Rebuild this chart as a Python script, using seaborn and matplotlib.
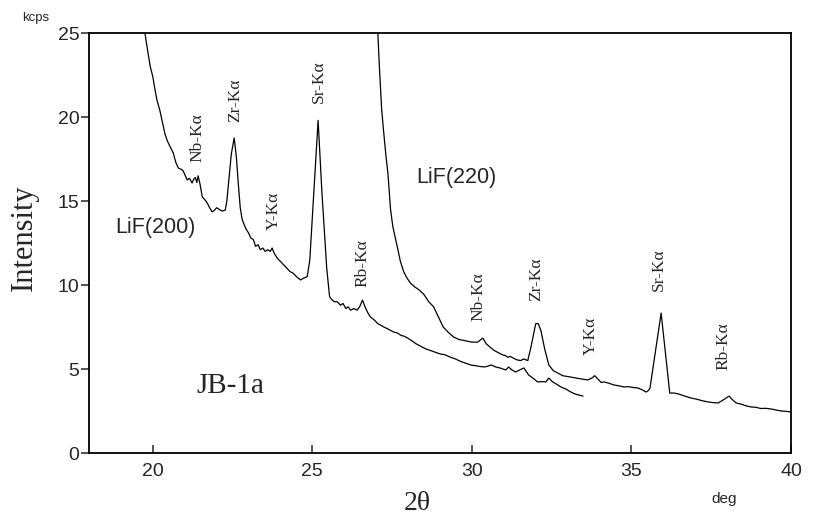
import numpy as np
import pandas as pd
import matplotlib
matplotlib.use("Agg")
import matplotlib.pyplot as plt
import seaborn as sns

# ---- data ----
lif200_x = [19.72, 19.85, 19.92, 20.00, 20.07, 20.13, 20.22, 20.30, 20.38, 20.45,
            20.55, 20.64, 20.72, 20.80, 20.88, 20.95, 21.02, 21.08, 21.15, 21.23,
            21.28, 21.33, 21.38, 21.42, 21.48, 21.55, 21.62, 21.70, 21.78, 21.86,
            21.93, 22.00, 22.08, 22.17, 22.27, 22.32, 22.38, 22.46, 22.55, 22.62,
            22.68, 22.74, 22.80, 22.86, 22.93, 23.00, 23.07, 23.15, 23.22, 23.30,
            23.37, 23.45, 23.52, 23.60, 23.68, 23.74, 23.80, 23.90, 24.00, 24.10,
            24.20, 24.30, 24.40, 24.50, 24.63, 24.72, 24.84, 24.92, 25.18, 25.30,
            25.45, 25.54, 25.62, 25.70, 25.78, 25.88, 25.96, 26.05, 26.12, 26.20,
            26.30, 26.40, 26.48, 26.57, 26.65, 26.75, 26.82, 26.95, 27.05, 27.15,
            27.24, 27.35, 27.45, 27.55, 27.67, 27.78, 27.88, 27.98, 28.10, 28.25,
            28.40, 28.55, 28.70, 28.85, 29.00, 29.15, 29.33, 29.48, 29.65, 29.80,
            29.96, 30.10, 30.25, 30.40, 30.52, 30.60, 30.75, 30.90, 31.06, 31.15,
            31.25, 31.37, 31.50, 31.63, 31.78, 31.92, 32.06, 32.20, 32.32, 32.41,
            32.53, 32.65, 32.79, 32.95, 33.10, 33.25, 33.48]
lif200_y = [25.4, 23.8, 23.0, 22.4, 21.6, 21.0, 20.4, 19.7, 19.0, 18.6,
            18.2, 17.86, 17.3, 16.96, 16.9, 16.8, 16.5, 16.25, 16.35, 16.07,
            16.3, 16.4, 16.1, 16.5, 16.0, 15.24, 15.1, 14.9, 14.6, 14.35,
            14.45, 14.6, 14.5, 14.4, 14.46, 15.0, 16.2, 17.8, 18.75, 17.6,
            16.0, 14.6, 13.9, 13.6, 13.3, 13.1, 12.8, 12.7, 12.3, 12.4,
            12.1, 12.2, 12.0, 12.1, 12.0, 12.2, 11.9, 11.6, 11.4, 11.2,
            11.0, 10.8, 10.7, 10.5, 10.3, 10.4, 10.5, 11.5, 19.8, 15.5,
            11.0, 9.3, 9.1, 9.0, 9.0, 8.8, 8.9, 8.6, 8.7, 8.5,
            8.6, 8.5, 8.7, 9.1, 8.7, 8.3, 8.1, 7.9, 7.7, 7.6,
            7.5, 7.4, 7.3, 7.2, 7.14, 7.0, 6.95, 6.85, 6.7, 6.5,
            6.35, 6.2, 6.1, 6.0, 5.9, 5.85, 5.7, 5.6, 5.45, 5.35,
            5.24, 5.2, 5.15, 5.12, 5.18, 5.24, 5.12, 5.05, 4.94, 5.12,
            4.95, 4.82, 4.95, 5.06, 4.64, 4.45, 4.23, 4.25, 4.23, 4.46,
            4.23, 4.1, 3.93, 3.8, 3.63, 3.5, 3.39]

lif220_x = [27.04, 27.10, 27.17, 27.23, 27.30, 27.37, 27.45, 27.52, 27.60, 27.67,
            27.76, 27.86, 27.97, 28.08, 28.20, 28.35, 28.49, 28.65, 28.80, 28.95,
            29.10, 29.25, 29.43, 29.60, 29.75, 29.87, 30.00, 30.18, 30.34, 30.45,
            30.60, 30.70, 30.80, 30.95, 31.05, 31.12, 31.20, 31.30, 31.40, 31.53,
            31.62, 31.75, 31.85, 32.00, 32.08, 32.16, 32.28, 32.41, 32.55, 32.69,
            32.85, 33.00, 33.10, 33.30, 33.45, 33.63, 33.75, 33.85, 33.95, 34.05,
            34.14, 34.30, 34.45, 34.60, 34.77, 34.90, 35.05, 35.20, 35.35, 35.46,
            35.52, 35.58, 35.93, 36.20, 36.34, 36.50, 36.65, 36.87, 37.05, 37.20,
            37.40, 37.55, 37.72, 37.87, 38.06, 38.15, 38.28, 38.45, 38.60, 38.75,
            38.90, 39.05, 39.20, 39.38, 39.55, 39.70, 39.85, 40.00]
lif220_y = [25.5, 23.0, 20.5, 19.2, 17.8, 16.6, 14.5, 13.5, 12.8, 12.2,
            11.4, 10.8, 10.4, 10.1, 9.9, 9.7, 9.45, 9.0, 8.7, 8.1,
            7.5, 7.2, 6.9, 6.75, 6.7, 6.65, 6.6, 6.6, 6.84, 6.5,
            6.25, 6.1, 6.0, 5.85, 5.8, 5.7, 5.75, 5.65, 5.55, 5.5,
            5.6, 5.5, 6.3, 7.7, 7.7, 7.3, 6.2, 5.24, 4.9, 4.76,
            4.6, 4.55, 4.52, 4.45, 4.4, 4.35, 4.45, 4.6, 4.4, 4.2,
            4.23, 4.15, 4.05, 4.0, 3.93, 3.95, 3.9, 3.87, 3.75, 3.63,
            3.7, 3.85, 8.33, 3.57, 3.57, 3.5, 3.4, 3.27, 3.2, 3.12,
            3.04, 3.0, 2.98, 3.15, 3.39, 3.2, 2.98, 2.9, 2.8, 2.74,
            2.72, 2.65, 2.66, 2.62, 2.55, 2.5, 2.48, 2.44]

x_ticks = [20, 25, 30, 35, 40]
y_ticks = [0, 5, 10, 15, 20, 25]

peak_labels_200 = ["Nb-Kα", "Zr-Kα", "Y-Kα", "Sr-Kα", "Rb-Kα"]
peak_pos_200 = [(21.39, 18.75), (22.58, 21.0), (23.78, 14.4), (25.19, 22.1), (26.57, 11.3)]
peak_labels_220 = ["Nb-Kα", "Zr-Kα", "Y-Kα", "Sr-Kα", "Rb-Kα"]
peak_pos_220 = [(30.21, 9.29), (32.0, 10.36), (33.73, 6.96), (35.87, 10.9), (37.87, 6.37)]

# ---- plotting ----
sns.set_style("ticks")
plt.rcParams['font.family'] = ['Liberation Sans', 'DejaVu Sans']

fig = plt.figure(figsize=(8.13, 5.19), dpi=100)
ax = fig.add_axes([89/813, 1 - 453/519, (791 - 89)/813, (453 - 33)/519])

df200 = pd.DataFrame({"x": lif200_x, "y": lif200_y})
df220 = pd.DataFrame({"x": lif220_x, "y": lif220_y})
sns.lineplot(data=df200, x="x", y="y", ax=ax, color="black", lw=0.9,
             estimator=None, sort=False)
sns.lineplot(data=df220, x="x", y="y", ax=ax, color="black", lw=0.9,
             estimator=None, sort=False)

ax.set_xlim(18, 40)
ax.set_ylim(0, 25)
ax.set_xticks(x_ticks)
ax.set_yticks(y_ticks)
ax.tick_params(axis="x", direction="in", length=6, width=1.1, labelsize=14, pad=7)
ax.tick_params(axis="y", direction="out", length=6, width=1.1, labelsize=14, pad=1)
for s in ax.spines.values():
    s.set_visible(True)
    s.set_linewidth(1.3)
    s.set_color("black")
ax.set_xlabel("")
ax.set_ylabel("")

serif = ['Liberation Serif', 'DejaVu Serif']
for lab, (px, py) in zip(peak_labels_200, peak_pos_200):
    ax.text(px, py, lab, rotation=90, ha="center", va="center", fontsize=12.5,
            family=serif)
for lab, (px, py) in zip(peak_labels_220, peak_pos_220):
    ax.text(px, py, lab, rotation=90, ha="center", va="center", fontsize=12.5,
            family=serif)

ax.text(20.07, 13.4, "LiF(200)", ha="center", va="center", fontsize=15.5)
ax.text(29.52, 16.37, "LiF(220)", ha="center", va="center", fontsize=15.5)
ax.text(22.43, 3.99, "JB-1a", ha="center", va="center", fontsize=21, family=serif)

fig.text(24/813, 1 - 238/519, "Intensity", rotation=90, ha="center", va="center",
         fontsize=22, family=serif)
fig.text(417/813, 1 - 503/519, "2θ", ha="center", va="center", fontsize=20,
         family=serif)
fig.text(724/813, 1 - 499/519, "deg", ha="center", va="center", fontsize=11)
fig.text(36/813, 1 - 18/519, "kcps", ha="center", va="center", fontsize=9.5)

fig.savefig("out.png", dpi=100)
